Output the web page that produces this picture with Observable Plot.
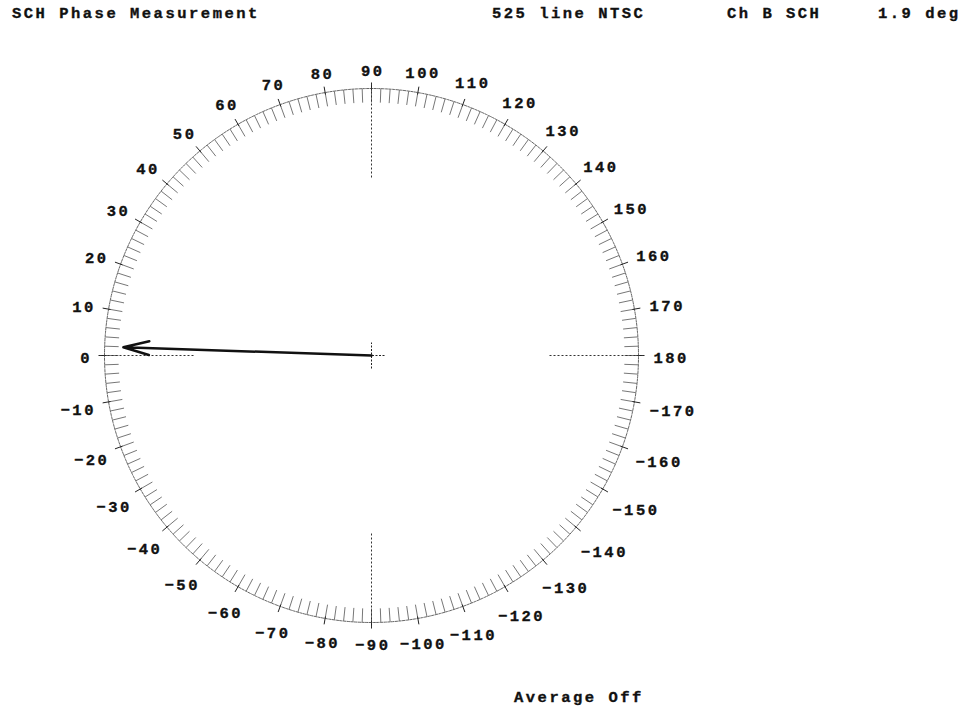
<!DOCTYPE html>
<html><head><meta charset="utf-8">
<script src="https://cdn.jsdelivr.net/npm/d3@7"></script>
<script src="https://cdn.jsdelivr.net/npm/@observablehq/plot@0.6"></script>
<style>
html,body{margin:0;padding:0;background:#fff;}
#page{position:relative;width:972px;height:711px;overflow:hidden;font-family:"Liberation Mono","Courier New",monospace;font-weight:bold;font-size:15.5px;letter-spacing:2.5px;color:#111;}
.txt{position:absolute;line-height:15px;white-space:pre;-webkit-text-stroke:0.35px #111;}
#chart{position:absolute;left:0;top:30px;}
</style></head><body><div id="page"><div id="header"></div><div id="chart"></div><div id="footer"></div></div>
<script>
// ---- data ----
const titleText = "SCH Phase Measurement";
const standardText = "525 line NTSC";
const channelText = "Ch B SCH";
const readoutText = "1.9 deg";
const footerText = "Average Off";
const phaseLabels = [0,10,20,30,40,50,60,70,80,90,100,110,120,130,140,150,160,170,180,
  -170,-160,-150,-140,-130,-120,-110,-100,-90,-80,-70,-60,-50,-40,-30,-20,-10];
const minorTickStep = 2;           // graticule tick every 2 degrees
const measuredPhase = 1.9;         // degrees
const vectorMagnitude = 0.93;      // fraction of the graticule radius

// ---- layout ----
const header = document.getElementById("header");
[[titleText,12],[standardText,492],[channelText,727],[readoutText,878]].forEach(([t,l]) => {
  const s = document.createElement("span"); s.className = "txt"; s.textContent = t;
  s.style.left = l + "px"; s.style.top = "7px"; header.appendChild(s);
});
const foot = document.createElement("span"); foot.className = "txt"; foot.textContent = footerText;
foot.style.left = "514px"; foot.style.top = "691px"; document.getElementById("footer").appendChild(foot);

const R = 267;
const rad = d => d * Math.PI / 180;
const pol = (deg, r) => [-r * Math.cos(rad(deg)), r * Math.sin(rad(deg))];
const seg = (deg, r1, r2) => { const [x1,y1] = pol(deg,r1), [x2,y2] = pol(deg,r2); return {x1,y1,x2,y2}; };

const rim = d3.range(0, 361, 0.5).map(a => { const [x,y] = pol(a,R); return {x,y}; });
const minorTicks = d3.range(-180 + minorTickStep, 180 + minorTickStep, minorTickStep).map(a => seg(a, R, R - 14));
const majorTicks = phaseLabels.map(a => seg(a, R - 2, R + 6));
const cross = [0,90,180,-90].map(a => seg(a, 178, 273));
const centerCross = [seg(0,-13,13), seg(90,-13,13)];
const fmt = v => v < 0 ? "\u2212" + Math.abs(v) : String(v);
const labels = phaseLabels.map(a => {
  const text = fmt(a);
  const w = text.length * 11.8 - 2.5, h = 10;
  const rl = 282 + Math.abs(Math.cos(rad(a))) * w / 2 + Math.abs(Math.sin(rad(a))) * h / 2;
  const [x,y] = pol(a, rl);
  return {x, y: y - 2.5, text};
});
const vec = [(() => { const [x2,y2] = pol(measuredPhase, vectorMagnitude * R); return {x1:0,y1:0,x2,y2}; })()];

const chart = Plot.plot({
  width: 972, height: 650, margin: 0,
  x: {domain: [-371, 601], range: [0, 972], axis: null},
  y: {domain: [-325, 325], range: [650, 0], axis: null},
  style: {fontFamily: '"Liberation Mono","Courier New",monospace', fontWeight: "bold", fontSize: "15.5px", letterSpacing: "2.5px", color: "#111", background: "#fff"},
  marks: [
    Plot.line(rim, {x: "x", y: "y", stroke: "#666", strokeWidth: 1, strokeDasharray: "2.5,1.2"}),
    Plot.link(minorTicks, {x1: "x1", y1: "y1", x2: "x2", y2: "y2", stroke: "#777", strokeWidth: 1}),
    Plot.link(majorTicks, {x1: "x1", y1: "y1", x2: "x2", y2: "y2", stroke: "#222", strokeWidth: 1}),
    Plot.link(cross, {x1: "x1", y1: "y1", x2: "x2", y2: "y2", stroke: "#333", strokeWidth: 1, strokeDasharray: "2,2"}),
    Plot.link(centerCross, {x1: "x1", y1: "y1", x2: "x2", y2: "y2", stroke: "#222", strokeWidth: 1, strokeDasharray: "2,1.5"}),
    Plot.arrow(vec, {x1: "x1", y1: "y1", x2: "x2", y2: "y2", stroke: "#111", strokeWidth: 2.5, headAngle: 30, headLength: 16}),
    Plot.text(labels, {x: "x", y: "y", text: "text", textAnchor: "middle", lineAnchor: "middle", dx: 1.25, fill: "#111", stroke: "#111", strokeWidth: 0.35, fontSize: 15.5, fontWeight: "bold"})
  ]
});
document.getElementById("chart").appendChild(chart);
</script></body></html>
